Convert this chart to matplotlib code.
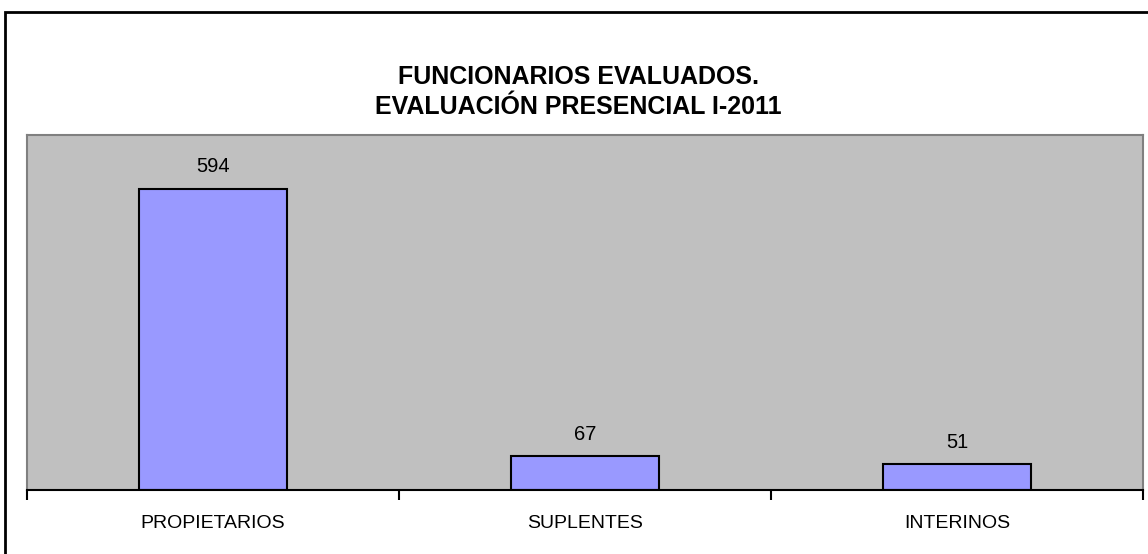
import matplotlib.pyplot as plt
from matplotlib.patches import Rectangle

categories = ["PROPIETARIOS", "SUPLENTES", "INTERINOS"]
values = [594, 67, 51]
title = "FUNCIONARIOS EVALUADOS.\nEVALUACIÓN PRESENCIAL I-2011"

plt.rcParams["font.family"] = ["Liberation Sans", "DejaVu Sans"]

fig = plt.figure(figsize=(11.48, 5.54), dpi=100)
fig.patch.set_facecolor("white")

# outer chart frame (only left and top edges fall inside the image)
fig.patches.append(Rectangle((5 / 1148, -0.1), 1.2, 1.1 - 12 / 554,
                             transform=fig.transFigure, fill=False,
                             edgecolor="black", linewidth=2, zorder=0))

ax = fig.add_axes([27 / 1148, 1 - 490 / 554, 1116 / 1148, 355 / 554])
ax.set_facecolor("#C0C0C0")

x = range(len(categories))
bars = ax.bar(x, values, width=0.4, color="#9999FF", edgecolor="black", linewidth=1.5, zorder=2)

for b, v in zip(bars, values):
    ax.annotate(str(v), (b.get_x() + b.get_width() / 2, v), xytext=(0, 9),
                textcoords="offset points", ha="center", va="bottom", fontsize=14.5)

ax.set_xlim(-0.5, 2.5)
ax.set_ylim(0, 700)
ax.set_yticks([])
ax.set_xticks(list(x))
ax.set_xticklabels(categories, fontsize=14)
ax.set_xticks([-0.5, 0.5, 1.5, 2.5], minor=True)
ax.tick_params(axis="x", which="major", length=0, pad=18)
ax.tick_params(axis="x", which="minor", length=7, width=1.5, direction="out", color="black")

for s in ["top", "left", "right"]:
    ax.spines[s].set_color("#808080")
    ax.spines[s].set_linewidth(1.5)
ax.spines["bottom"].set_color("black")
ax.spines["bottom"].set_linewidth(1.5)

fig.text(578 / 1148, 1 - 92 / 554, title, ha="center", va="center",
         fontsize=18, fontweight="bold", linespacing=1.28)

fig.savefig("out.png", dpi=100)
